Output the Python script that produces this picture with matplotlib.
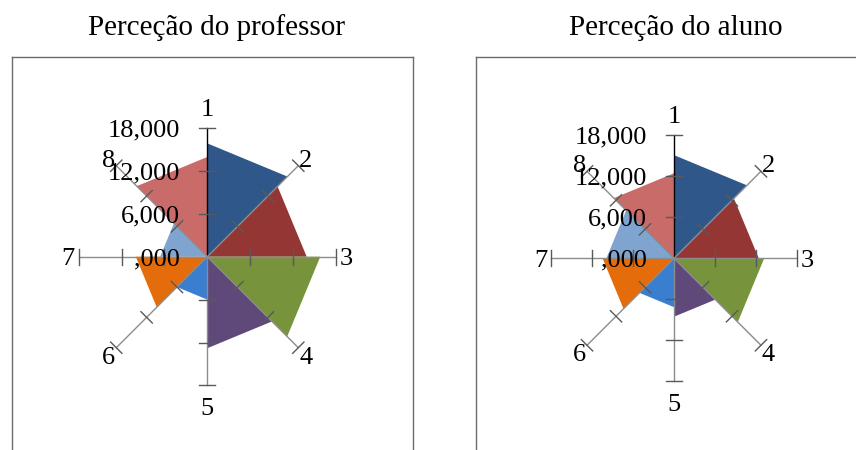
import numpy as np
import matplotlib
matplotlib.use("Agg")
import matplotlib.pyplot as plt

plt.rcParams["font.family"] = ["Liberation Serif", "DejaVu Serif"]

# one value per sector, sector k spans axis k -> axis k+1
categories = ["1", "2", "3", "4", "5", "6", "7", "8"]
professor = [15850, 13900, 15800, 12800, 6000, 10000, 6600, 13950]
aluno = [15100, 12400, 13200, 8550, 7150, 10450, 9900, 12450]
sector_colors = ["#30578A", "#943634", "#77933C", "#5F497A",
                 "#3A7ECF", "#E46C0A", "#7FA4D0", "#C86B69"]
value_ticks = [0, 6000, 12000, 18000]
value_labels = [",000", "6,000", "12,000", "18,000"]
vmax = 18000

W, H = 856, 450


def radar(fig, frame_px, center_px, radius_px, values, title, title_x):
    left, top, right, bottom = frame_px
    cx, cy = center_px
    u = vmax / radius_px  # data units per pixel
    ax = fig.add_axes([left / W, 1 - bottom / H, (right - left) / W, (bottom - top) / H])
    ax.set_xlim(-(cx - left) * u, (right - cx) * u)
    ax.set_ylim(-(bottom - cy) * u, (cy - top) * u)
    ax.set_xticks([])
    ax.set_yticks([])
    for s in ax.spines.values():
        s.set_color("#6b6b6b")
        s.set_linewidth(1)

    n = len(categories)
    theta = np.arange(n) * 2 * np.pi / n
    dx, dy = np.sin(theta), np.cos(theta)

    for i, v in enumerate(values):
        j = (i + 1) % n
        ax.fill([0, v * dx[i], v * dx[j]], [0, v * dy[i], v * dy[j]],
                color=sector_colors[i], lw=0, zorder=1)

    half = 8 * u
    for k in range(n):
        c = "black" if k == 0 else "#8c8c8c"
        ax.plot([0, vmax * dx[k]], [0, vmax * dy[k]], color=c, lw=1, zorder=2)
        for t in value_ticks[1:]:
            px, py = t * dx[k], t * dy[k]
            ax.plot([px - half * dy[k], px + half * dy[k]],
                    [py + half * dx[k], py - half * dx[k]],
                    color="#595959", lw=1, zorder=2)
        off = 21 if abs(dy[k]) > 0.99 else 10.5
        r = vmax + off * u
        ax.text(r * dx[k], r * dy[k], categories[k], ha="center",
                va="center_baseline", fontsize=19, zorder=3)

    for t, lab in zip(value_ticks, value_labels):
        ax.text(-27 * u, t, lab, ha="right", va="center_baseline",
                fontsize=19, zorder=3)

    fig.text(title_x / W, 1 - 35 / H, title, ha="center", va="baseline", fontsize=21)
    return ax


fig = plt.figure(figsize=(W / 100, H / 100), dpi=100)
radar(fig, (11.7, 57, 412.7, 470), (207.3, 256.7), 128.7, professor,
      "Perceção do professor", 217)
radar(fig, (476, 57.3, 880, 470), (674, 258.3), 123, aluno,
      "Perceção do aluno", 676)
fig.savefig("out.png", dpi=100)
